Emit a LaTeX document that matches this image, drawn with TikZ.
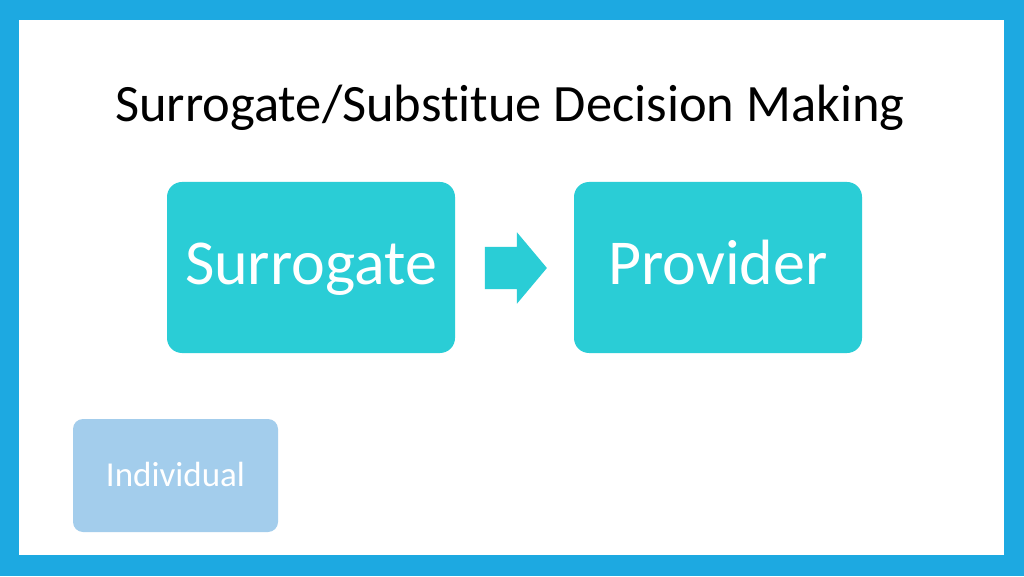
\documentclass[tikz,border=0pt]{standalone}
\usepackage{fontspec}
\setmainfont{Carlito}[Ligatures=NoCommon]
\usetikzlibrary{shapes.arrows}
\definecolor{frameblue}{HTML}{1DA9E1}
\definecolor{boxcyan}{HTML}{2ACDD6}
\definecolor{lightblue}{HTML}{A3CDEC}
\begin{document}
\begin{tikzpicture}[x=1pt,y=1pt,
	mainbox/.style={fill=boxcyan,text=white,rounded corners=15pt,minimum width=288pt,minimum height=171pt,inner sep=0pt,text height=41pt,text depth=6pt,font=\fontsize{64}{70}\selectfont},
	smallbox/.style={fill=lightblue,text=white,rounded corners=10pt,minimum width=205pt,minimum height=113pt,inner sep=0pt,text height=23pt,text depth=2pt,font=\fontsize{35}{40}\selectfont}]
	% frame
	\fill[frameblue] (0,0) rectangle (1024,576);
	\fill[white] (19,21) rectangle (1004,556);
	% title
	\node[anchor=base,font=\fontsize{52.5}{60}\selectfont] (title) at (510,454) {Surrogate/Substitue Decision Making};
	% boxes
	\node[mainbox] (surrogate) at (311,308.5) {Surrogate};
	\node[mainbox] (provider) at (718,308.5) {Provider};
	\node[single arrow,fill=boxcyan,inner xsep=0pt,inner ysep=21pt,minimum height=62pt,single arrow head extend=14.5pt,single arrow tip angle=100] (arrow) at (507,308) {};
	% individual
	\node[smallbox] (individual) at (175.5,100.5) {Individual};
\end{tikzpicture}
\end{document}
